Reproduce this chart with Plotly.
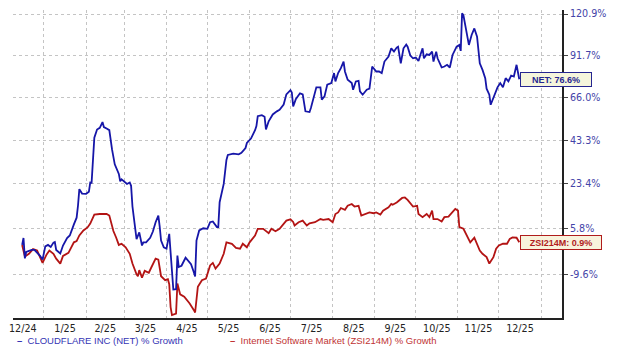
import math
import plotly.graph_objects as go

# ---------------- data ----------------
net_dates = [
    "2024-12-16", "2024-12-17", "2024-12-18", "2024-12-19", "2024-12-23", "2024-12-25",
    "2024-12-29", "2024-12-31", "2025-01-02", "2025-01-04", "2025-01-06", "2025-01-08",
    "2025-01-09", "2025-01-10", "2025-01-13", "2025-01-15", "2025-01-18", "2025-01-20",
    "2025-01-23", "2025-01-25", "2025-01-26", "2025-01-27", "2025-01-29", "2025-02-01",
    "2025-02-03", "2025-02-04", "2025-02-05", "2025-02-07", "2025-02-09", "2025-02-11",
    "2025-02-13", "2025-02-14", "2025-02-16", "2025-02-18", "2025-02-20", "2025-02-22",
    "2025-02-25", "2025-02-26", "2025-02-27", "2025-03-01", "2025-03-03", "2025-03-05",
    "2025-03-06", "2025-03-07", "2025-03-09", "2025-03-10", "2025-03-12", "2025-03-14",
    "2025-03-15", "2025-03-17", "2025-03-20", "2025-03-22", "2025-03-24", "2025-03-26",
    "2025-03-27", "2025-03-28", "2025-03-30", "2025-04-01", "2025-04-03", "2025-04-04",
    "2025-04-05", "2025-04-06", "2025-04-08", "2025-04-09", "2025-04-10", "2025-04-12",
    "2025-04-15", "2025-04-19", "2025-04-21", "2025-04-22", "2025-04-23", "2025-04-25",
    "2025-04-28", "2025-05-01", "2025-05-03", "2025-05-05", "2025-05-08", "2025-05-09",
    "2025-05-10", "2025-05-13", "2025-05-15", "2025-05-16", "2025-05-20", "2025-05-24",
    "2025-05-26", "2025-05-29", "2025-05-30", "2025-06-02", "2025-06-05", "2025-06-06",
    "2025-06-07", "2025-06-10", "2025-06-12", "2025-06-13", "2025-06-15", "2025-06-18",
    "2025-06-21", "2025-06-23", "2025-06-26", "2025-06-28", "2025-07-01", "2025-07-02",
    "2025-07-03", "2025-07-05", "2025-07-08", "2025-07-10", "2025-07-12", "2025-07-15",
    "2025-07-16", "2025-07-18", "2025-07-20", "2025-07-23", "2025-07-24", "2025-07-26",
    "2025-07-28", "2025-07-31", "2025-08-02", "2025-08-03", "2025-08-05", "2025-08-07",
    "2025-08-09", "2025-08-10", "2025-08-12", "2025-08-15", "2025-08-16", "2025-08-18",
    "2025-08-20", "2025-08-21", "2025-08-23", "2025-08-26", "2025-08-28", "2025-08-30",
    "2025-09-02", "2025-09-04", "2025-09-06", "2025-09-08", "2025-09-11", "2025-09-13",
    "2025-09-15", "2025-09-17", "2025-09-18", "2025-09-20", "2025-09-22", "2025-09-24",
    "2025-09-25", "2025-09-27", "2025-09-29", "2025-10-01", "2025-10-03", "2025-10-04",
    "2025-10-06", "2025-10-07", "2025-10-09", "2025-10-11", "2025-10-13", "2025-10-14",
    "2025-10-16", "2025-10-17", "2025-10-20", "2025-10-22", "2025-10-24", "2025-10-26",
    "2025-10-27", "2025-10-28", "2025-10-31", "2025-11-02", "2025-11-03", "2025-11-04",
    "2025-11-05", "2025-11-07", "2025-11-09", "2025-11-11", "2025-11-13", "2025-11-15",
    "2025-11-17", "2025-11-19", "2025-11-21", "2025-11-22", "2025-11-24", "2025-11-25",
    "2025-11-27", "2025-11-29", "2025-11-30", "2025-12-02", "2025-12-04", "2025-12-06",
    "2025-12-08", "2025-12-10", "2025-12-12", "2025-12-14", "2025-12-16",
]
net_growth = [
    0.0, 2.4, -4.5, -2.4, -1.7, -1.7,
    -3.6, -4.9, -0.5, 0.0, -0.7, 0.8,
    1.0, -1.7, -2.9, -0.2, 2.4, 3.3,
    7.3, 9.8, 14.4, 21.1, 19.3, 19.2,
    20.0, 23.9, 23.8, 44.5, 48.6, 49.5,
    52.5, 49.9, 49.1, 48.3, 38.8, 31.9,
    27.6, 24.4, 25.3, 24.4, 23.3, 23.9,
    22.5, 14.1, 4.7, 2.0, 4.4, -0.2,
    0.9, 0.9, 2.5, 4.7, 8.1, 10.6,
    6.5, 1.5, -0.8, -1.3, 3.9, -3.0,
    -11.4, -14.2, -14.1, -3.6, -7.3, -6.9,
    -4.3, -6.4, -8.9, -10.3, 1.5, 5.1,
    5.9, 5.7, 8.1, 8.4, 6.3, 6.3,
    15.8, 23.3, 33.9, 36.2, 36.8, 36.5,
    37.2, 39.5, 41.9, 44.1, 48.3, 50.4,
    55.6, 56.1, 55.3, 48.7, 52.9, 56.5,
    58.2, 59.0, 61.9, 67.7, 70.1, 68.8,
    60.9, 65.1, 68.3, 67.7, 58.2, 57.8,
    60.0, 66.5, 71.8, 71.8, 64.7, 66.5,
    73.3, 74.3, 80.4, 75.3, 80.4, 83.5,
    87.7, 81.4, 76.3, 74.3, 70.4, 75.3,
    75.7, 69.4, 67.5, 70.4, 71.0, 84.5,
    81.4, 81.4, 80.4, 87.7, 90.9, 96.4,
    94.2, 96.9, 97.5, 86.6, 96.4, 99.0,
    97.5, 91.6, 89.8, 90.3, 88.0, 90.9,
    96.4, 89.8, 92.4, 92.0, 94.2, 87.7,
    94.2, 89.8, 83.9, 84.5, 85.6, 83.9,
    89.4, 92.0, 97.5, 98.7, 94.7, 121.5,
    120.0, 110.3, 98.7, 105.6, 110.3, 104.4,
    86.6, 82.4, 77.3, 71.0, 67.5, 61.8,
    65.6, 70.4, 71.8, 74.3, 71.8, 77.3,
    75.3, 78.9, 78.3, 85.6, 76.6,
]

zsi_dates = [
    "2024-12-16", "2024-12-18", "2024-12-21", "2024-12-24", "2024-12-27", "2024-12-29",
    "2024-12-31", "2025-01-03", "2025-01-05", "2025-01-08", "2025-01-10", "2025-01-13",
    "2025-01-15", "2025-01-19", "2025-01-21", "2025-01-23", "2025-01-25", "2025-01-27",
    "2025-01-30", "2025-02-02", "2025-02-04", "2025-02-06", "2025-02-07", "2025-02-11",
    "2025-02-16", "2025-02-18", "2025-02-21", "2025-02-23", "2025-02-25", "2025-02-27",
    "2025-03-02", "2025-03-05", "2025-03-07", "2025-03-10", "2025-03-11", "2025-03-12",
    "2025-03-14", "2025-03-16", "2025-03-19", "2025-03-21", "2025-03-24", "2025-03-26",
    "2025-03-28", "2025-03-31", "2025-04-02", "2025-04-03", "2025-04-04", "2025-04-05",
    "2025-04-08", "2025-04-09", "2025-04-11", "2025-04-14", "2025-04-18", "2025-04-21",
    "2025-04-22", "2025-04-24", "2025-04-27", "2025-04-30", "2025-05-03", "2025-05-05",
    "2025-05-07", "2025-05-10", "2025-05-13", "2025-05-15", "2025-05-19", "2025-05-22",
    "2025-05-25", "2025-05-27", "2025-05-30", "2025-06-01", "2025-06-05", "2025-06-07",
    "2025-06-11", "2025-06-15", "2025-06-17", "2025-06-20", "2025-06-23", "2025-06-26",
    "2025-06-28", "2025-07-01", "2025-07-03", "2025-07-04", "2025-07-07", "2025-07-10",
    "2025-07-13", "2025-07-15", "2025-07-19", "2025-07-23", "2025-07-25", "2025-07-29",
    "2025-08-01", "2025-08-03", "2025-08-05", "2025-08-07", "2025-08-10", "2025-08-12",
    "2025-08-15", "2025-08-17", "2025-08-20", "2025-08-22", "2025-08-25", "2025-08-28",
    "2025-08-31", "2025-09-02", "2025-09-05", "2025-09-07", "2025-09-11", "2025-09-13",
    "2025-09-14", "2025-09-17", "2025-09-21", "2025-09-23", "2025-09-25", "2025-09-27",
    "2025-09-29", "2025-10-02", "2025-10-03", "2025-10-06", "2025-10-09", "2025-10-11",
    "2025-10-13", "2025-10-14", "2025-10-17", "2025-10-20", "2025-10-22", "2025-10-25",
    "2025-10-27", "2025-10-30", "2025-11-01", "2025-11-02", "2025-11-05", "2025-11-07",
    "2025-11-10", "2025-11-13", "2025-11-15", "2025-11-17", "2025-11-19", "2025-11-22",
    "2025-11-24", "2025-11-27", "2025-11-29", "2025-12-01", "2025-12-04", "2025-12-07",
    "2025-12-09", "2025-12-11", "2025-12-14", "2025-12-16",
]
zsi_growth = [
    0.0, -3.9, -3.0, -1.4, -1.9, -4.1,
    -6.0, -3.2, -1.9, -3.0, -4.6, -6.2,
    -3.7, -2.7, -0.9, 0.9, 1.3, 3.3,
    5.1, 6.2, 7.6, 10.0, 11.0, 11.2,
    11.2, 10.6, 4.9, 2.6, 0.0, 0.4,
    -0.8, -3.0, -6.2, -9.6, -10.2, -8.3,
    -10.6, -8.5, -9.1, -7.3, -4.6, -4.9,
    -10.2, -11.4, -11.1, -12.6, -19.2, -21.4,
    -21.0, -12.4, -15.6, -16.3, -18.2, -20.0,
    -20.7, -13.4, -11.4, -10.9, -6.8, -6.0,
    -7.8, -6.2, -3.0, 0.9, 0.4, -1.0,
    -1.3, 0.4, -0.8, 0.9, 3.3, 5.7,
    5.7, 4.1, 5.7, 4.8, 5.7, 7.5,
    8.7, 9.2, 8.2, 6.9, 8.1, 8.7,
    6.9, 7.7, 8.1, 9.3, 9.0, 9.3,
    8.1, 11.2, 11.8, 13.5, 12.8, 14.4,
    15.1, 14.1, 14.4, 10.6, 11.2, 11.8,
    11.5, 11.8, 11.0, 12.5, 13.8, 15.1,
    14.8, 15.7, 17.5, 17.7, 16.7, 15.3,
    14.1, 14.4, 11.2, 10.0, 11.2, 10.0,
    12.5, 9.3, 9.3, 8.4, 10.0, 10.2,
    11.5, 13.2, 12.5, 6.3, 5.7, 3.9,
    0.9, 2.5, 0.4, -1.9, -3.0, -4.1,
    -6.2, -4.1, -1.3, -0.2, 0.4, 0.4,
    2.1, 2.6, 2.5, 0.9,
]

y_tick_values = [120.9, 91.7, 66.0, 43.3, 23.4, 5.8, -9.6]
y_tick_labels = [f"{v:.1f}%" for v in y_tick_values]

net_name = "CLOUDFLARE INC (NET) % Growth"
zsi_name = "Internet Software Market (ZSI214M) % Growth"
net_tag = "NET"
zsi_tag = "ZSI214M"

# ---------------- styling ----------------
NET_COLOR = "#1616a8"
ZSI_COLOR = "#b31414"
GRID = "#c4c4c4"
AXIS_FONT = dict(family="DejaVu Sans", size=9.6, color="#222222")


def idx(vals):
    # growth (%) -> growth index with base 100 (plotted on a log axis)
    return [100.0 + v for v in vals]


fig = go.Figure()
fig.add_trace(go.Scatter(x=zsi_dates, y=idx(zsi_growth), mode="lines", name=zsi_name,
                         line=dict(color=ZSI_COLOR, width=1.8), showlegend=False,
                         hoverinfo="skip"))
fig.add_trace(go.Scatter(x=net_dates, y=idx(net_growth), mode="lines", name=net_name,
                         line=dict(color=NET_COLOR, width=1.8), showlegend=False,
                         hoverinfo="skip"))

fig.update_layout(
    width=620, height=354,
    margin=dict(l=13, r=58, t=8, b=36),
    paper_bgcolor="white", plot_bgcolor="white",
    showlegend=False,
    hovermode=False,
)

fig.update_xaxes(
    type="date",
    range=["2024-12-09 07:00", "2026-01-16 08:40"],
    dtick="M1", tick0="2025-01-01",
    ticklabelmode="period", tickformat="%-m/%y",
    showgrid=True, gridcolor=GRID, griddash="dot", gridwidth=1,
    showline=True, linecolor="#222222", linewidth=2,
    ticks="", tickfont=AXIS_FONT, zeroline=False,
)
fig.update_yaxes(
    type="log", side="right",
    range=[1.89105, 2.35031],
    tickvals=idx(y_tick_values), ticktext=y_tick_labels,
    showgrid=True, gridcolor=GRID, griddash="dot", gridwidth=1,
    showline=True, linecolor="#222222", linewidth=2,
    ticks="outside", ticklen=4, tickcolor="#444444", tickwidth=1,
    tickfont=dict(family="DejaVu Sans", size=9.6, color="#4343a8"),
    zeroline=False,
)

# end-value tags
for dates, vals, tag, col, fill, wid in [
    (net_dates, net_growth, net_tag, "#262690", "#f5f5dc", 66),
    (zsi_dates, zsi_growth, zsi_tag, "#b01c1c", "#f8f3dc", 76),
]:
    fig.add_annotation(
        x=dates[-1], y=math.log10(100.0 + vals[-1]),
        xref="x", yref="y", xanchor="left", yanchor="middle", xshift=1,
        text=f"<b>{tag}: {vals[-1]:.1f}%</b>", showarrow=False,
        font=dict(family="Liberation Sans", size=9, color=col),
        bgcolor=fill, bordercolor=col, borderwidth=1, borderpad=2,
        width=wid, height=9, align="center", valign="middle",
    )

# legend (as text below the chart)
for xpos, name, col in [(0.0036, net_name, "#3434b4"), (0.3916, zsi_name, "#c03434")]:
    fig.add_annotation(
        x=xpos, y=-0.074, xref="paper", yref="paper", xanchor="left", yanchor="middle",
        text=f"<b>–</b>&nbsp;&nbsp;{name}", showarrow=False,
        font=dict(family="Liberation Sans", size=9.5, color=col),
    )

fig.write_html("out.html")
